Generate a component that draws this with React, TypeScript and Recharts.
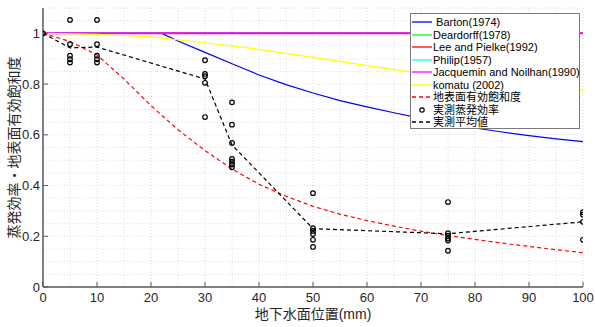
import React from 'react';
import { ComposedChart, Line, Scatter, XAxis, YAxis, CartesianGrid, Legend, Label } from 'recharts';

const xTicks = [0, 10, 20, 30, 40, 50, 60, 70, 80, 90, 100];
const yTicks = [0, 0.2, 0.4, 0.6, 0.8, 1];
const xGrid = [0, 5, 10, 15, 20, 25, 30, 35, 40, 45, 50, 55, 60, 65, 70, 75, 80, 85, 90, 95, 100];
const yGrid = [0, 0.05, 0.1, 0.15, 0.2, 0.25, 0.3, 0.35, 0.4, 0.45, 0.5, 0.55, 0.6, 0.65, 0.7, 0.75, 0.8, 0.85, 0.9, 0.95, 1, 1.05, 1.1];

const bartonDepth = [0, 10, 20, 22, 25, 30, 35, 40, 45, 50, 55, 60, 65, 70, 75, 80, 85, 90, 95, 100];
const bartonEff = [1, 1, 1, 1, 0.97, 0.925, 0.88, 0.836, 0.798, 0.765, 0.735, 0.71, 0.687, 0.665, 0.645, 0.627, 0.611, 0.597, 0.584, 0.573];

const modelDepth = [0, 100];
const deardorffEff = [1, 1];
const leeEff = [1, 1];
const philipEff = [1, 1];
const jacqueminEff = [1, 1];

const komatuDepth = [0, 10, 20, 30, 40, 50, 60, 70, 80, 90, 100];
const komatuEff = [1, 0.996, 0.986, 0.963, 0.937, 0.905, 0.873, 0.842, 0.813, 0.792, 0.775];

const satDepth = [0, 5, 10, 15, 20, 25, 30, 35, 40, 45, 50, 55, 60, 65, 70, 75, 80, 85, 90, 95, 100];
const satValue = [1, 0.968, 0.915, 0.82, 0.715, 0.62, 0.538, 0.465, 0.405, 0.358, 0.318, 0.287, 0.262, 0.24, 0.22, 0.203, 0.188, 0.173, 0.16, 0.147, 0.135];

const obsDepth = [
  0,
  5, 5, 5, 5, 5,
  10, 10, 10, 10, 10,
  30, 30, 30, 30, 30,
  35, 35, 35, 35, 35, 35, 35,
  50, 50, 50, 50, 50, 50,
  75, 75, 75, 75, 75, 75,
  100, 100, 100, 100,
];
const obsEff = [
  1,
  1.053, 0.957, 0.912, 0.898, 0.885,
  1.053, 0.957, 0.912, 0.898, 0.885,
  0.894, 0.84, 0.831, 0.805, 0.67,
  0.728, 0.64, 0.568, 0.505, 0.494, 0.483, 0.472,
  0.37, 0.232, 0.221, 0.209, 0.186, 0.158,
  0.335, 0.212, 0.202, 0.191, 0.183, 0.143,
  0.295, 0.285, 0.257, 0.186,
];

const meanDepth = [0, 5, 10, 30, 35, 50, 75, 100];
const meanEff = [1, 0.943, 0.946, 0.82, 0.56, 0.23, 0.21, 0.257];

const legendNames = [
  ' Barton(1974)',
  'Deardorff(1978)',
  'Lee and Pielke(1992)',
  'Philip(1957)',
  'Jacquemin and Noilhan(1990)',
  'komatu (2002)',
  '地表面有効飽和度',
  '実測蒸発効率',
  '実測平均値',
];

const toPoints = (xs: number[], ys: number[]) => xs.map((x, i) => ({ x, y: ys[i] }));

const bartonData = toPoints(bartonDepth, bartonEff);
const deardorffData = toPoints(modelDepth, deardorffEff);
const leeData = toPoints(modelDepth, leeEff);
const philipData = toPoints(modelDepth, philipEff);
const jacqueminData = toPoints(modelDepth, jacqueminEff);
const komatuData = toPoints(komatuDepth, komatuEff);
const satData = toPoints(satDepth, satValue);
const obsData = toPoints(obsDepth, obsEff);
const meanData = toPoints(meanDepth, meanEff);

const swatches = [
  { kind: 'line', color: '#0000ff' },
  { kind: 'line', color: '#00ff00' },
  { kind: 'line', color: '#ff0000' },
  { kind: 'line', color: '#00ffff' },
  { kind: 'line', color: '#ff00ff' },
  { kind: 'line', color: '#ffff00' },
  { kind: 'dash', color: '#ff0000' },
  { kind: 'marker', color: '#000000' },
  { kind: 'dash', color: '#000000' },
];

const FONT = "'Liberation Sans', Arial, 'Noto Sans CJK JP', sans-serif";
const AXIS = '#595959';

const LegendBox = () => (
  <div
    style={{
      boxSizing: 'border-box',
      width: 170,
      height: 116,
      border: '1px solid #7a7a7a',
      background: '#fff',
      paddingTop: 2,
      fontFamily: FONT,
      fontSize: 11,
      color: '#000',
    }}
  >
    {legendNames.map((name, i) => {
      const s = swatches[i];
      return (
        <div key={i} style={{ display: 'flex', alignItems: 'center', height: 12.5, lineHeight: '12.5px', whiteSpace: 'pre' }}>
          <svg width={22} height={12} style={{ flex: 'none' }}>
            {s.kind === 'line' && <line x1={1} x2={21} y1={6} y2={6} stroke={s.color} strokeWidth={1.3} />}
            {s.kind === 'dash' && <line x1={1} x2={19} y1={6} y2={6} stroke={s.color} strokeWidth={1.3} strokeDasharray="4 3" />}
            {s.kind === 'marker' && <circle cx={11} cy={6} r={2.2} fill="none" stroke={s.color} strokeWidth={1.2} />}
          </svg>
          <span>{name}</span>
        </div>
      );
    })}
  </div>
);

const ObsMarker = (props: any) => (
  <circle cx={props.cx} cy={props.cy} r={2.3} fill="none" stroke="#000" strokeWidth={1.2} />
);

export default function App() {
  return (
    <div style={{ width: 595, height: 327, background: '#fff' }}>
      <style>{'body{margin:0;background:#fff}'}</style>
      <ComposedChart width={595} height={327} margin={{ top: 8, right: 12, bottom: 10, left: 8 }}>
        <CartesianGrid
          verticalValues={xGrid}
          horizontalValues={yGrid}
          stroke="#d4d4d4"
          strokeDasharray="1 2"
          strokeWidth={0.8}
        />
        <XAxis
          dataKey="x"
          type="number"
          domain={[0, 100]}
          ticks={xTicks}
          interval={0}
          allowDataOverflow
          height={30}
          tickSize={-5}
          tickMargin={11}
          axisLine={{ stroke: AXIS, strokeWidth: 1.5 }}
          tickLine={{ stroke: AXIS, strokeWidth: 1 }}
          tick={{ fill: '#262626', fontSize: 13, fontFamily: FONT }}
        >
          <Label
            content={() => (
              <text x={313} y={314} textAnchor="middle" dominantBaseline="central" fontSize={14} fontFamily={FONT} fill="#262626">
                地下水面位置(mm)
              </text>
            )}
          />
        </XAxis>
        <XAxis
          xAxisId="top"
          orientation="top"
          type="number"
          domain={[0, 100]}
          ticks={xTicks}
          interval={0}
          allowDataOverflow
          height={0}
          tickSize={-5}
          tick={false}
          axisLine={{ stroke: AXIS, strokeWidth: 1.5 }}
          tickLine={{ stroke: AXIS, strokeWidth: 1 }}
        />
        <YAxis
          dataKey="y"
          type="number"
          domain={[0, 1.1]}
          ticks={yTicks}
          interval={0}
          allowDataOverflow
          width={35}
          tickSize={-5}
          tickMargin={8}
          axisLine={{ stroke: AXIS, strokeWidth: 1.5 }}
          tickLine={{ stroke: AXIS, strokeWidth: 1 }}
          tick={{ fill: '#262626', fontSize: 13, fontFamily: FONT }}
        >
          <Label
            content={() => (
              <text x={13.5} y={147.5} transform="rotate(-90 13.5 147.5)" textAnchor="middle" dominantBaseline="central" fontSize={14} fontFamily={FONT} fill="#262626">
                蒸発効率・地表面有効飽和度
              </text>
            )}
          />
        </YAxis>
        <YAxis
          yAxisId="right"
          orientation="right"
          type="number"
          domain={[0, 1.1]}
          ticks={yTicks}
          interval={0}
          allowDataOverflow
          width={0}
          tickSize={-5}
          tick={false}
          axisLine={{ stroke: AXIS, strokeWidth: 1.5 }}
          tickLine={{ stroke: AXIS, strokeWidth: 1 }}
        />
        <Line data={bartonData} dataKey="y" type="linear" stroke="#0000ff" strokeWidth={1.2} dot={false} isAnimationActive={false} />
        <Line data={deardorffData} dataKey="y" type="linear" stroke="#00ff00" strokeWidth={1.5} dot={false} isAnimationActive={false} />
        <Line data={leeData} dataKey="y" type="linear" stroke="#ff0000" strokeWidth={1.5} dot={false} isAnimationActive={false} />
        <Line data={philipData} dataKey="y" type="linear" stroke="#00ffff" strokeWidth={1.5} dot={false} isAnimationActive={false} />
        <Line data={jacqueminData} dataKey="y" type="linear" stroke="#ff00ff" strokeWidth={2} dot={false} isAnimationActive={false} />
        <Line data={komatuData} dataKey="y" type="linear" stroke="#ffff00" strokeWidth={1.2} dot={false} isAnimationActive={false} />
        <Line data={satData} dataKey="y" type="linear" stroke="#ff0000" strokeWidth={1.2} strokeDasharray="4 3" dot={false} isAnimationActive={false} />
        <Scatter data={obsData} dataKey="y" shape={ObsMarker} isAnimationActive={false} />
        <Line data={meanData} dataKey="y" type="linear" stroke="#000000" strokeWidth={1.2} strokeDasharray="4 3" dot={false} isAnimationActive={false} />
        <Legend
          layout="horizontal"
          verticalAlign="middle"
          align="center"
          content={() => <LegendBox />}
          wrapperStyle={{ position: 'absolute', left: 410, top: 13, width: 170, height: 116 }}
        />
      </ComposedChart>
    </div>
  );
}
